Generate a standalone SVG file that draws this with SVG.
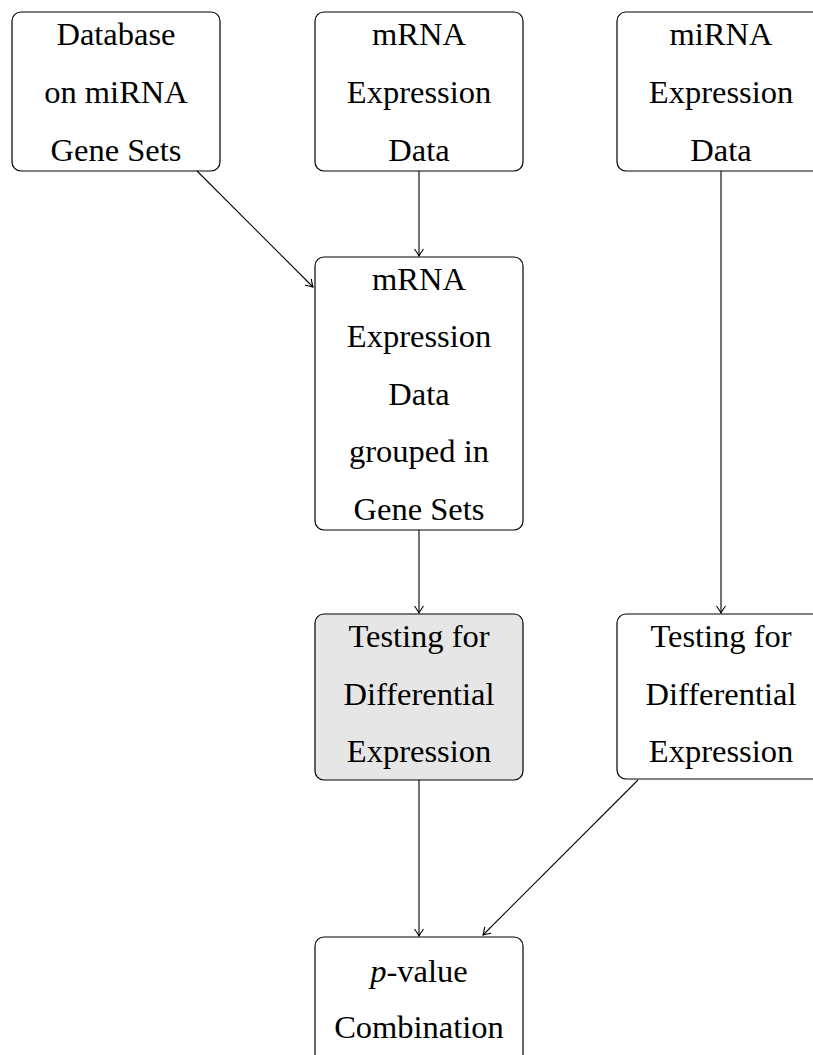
<svg xmlns="http://www.w3.org/2000/svg" width="813" height="1055" viewBox="0 0 813 1055">
<defs>
<marker id="ah" viewBox="-10 -6 12 12" refX="0" refY="0" markerWidth="12" markerHeight="12" markerUnits="userSpaceOnUse" orient="auto">
<path d="M-7,-4.5 Q-2,-1 0,0 Q-2,1 -7,4.5" fill="none" stroke="#000" stroke-width="1.1"/>
</marker>
</defs>
<rect width="813" height="1055" fill="#fff"/>
<g id="nodes" font-family="Liberation Serif, Times New Roman, serif" font-size="32.5" text-anchor="middle">
<g id="n1"><rect x="12" y="12" width="208" height="159" rx="9" fill="#fff" stroke="#000" stroke-width="1.2"/>
<text x="116" y="45">Database</text><text x="116" y="103">on miRNA</text><text x="116" y="161">Gene Sets</text></g>
<g id="n2"><rect x="315" y="12" width="208" height="159" rx="9" fill="#fff" stroke="#000" stroke-width="1.2"/>
<text x="419" y="45">mRNA</text><text x="419" y="103">Expression</text><text x="419" y="161">Data</text></g>
<g id="n3"><rect x="617" y="12" width="208" height="159" rx="9" fill="#fff" stroke="#000" stroke-width="1.2"/>
<text x="721" y="45">miRNA</text><text x="721" y="103">Expression</text><text x="721" y="161">Data</text></g>
<g id="n4"><rect x="315" y="257" width="208" height="273" rx="9" fill="#fff" stroke="#000" stroke-width="1.2"/>
<text x="419" y="290">mRNA</text><text x="419" y="347">Expression</text><text x="419" y="405">Data</text><text x="419" y="462">grouped in</text><text x="419" y="520">Gene Sets</text></g>
<g id="n5"><rect x="315" y="614" width="208" height="166" rx="9" fill="#e6e6e6" stroke="#000" stroke-width="1.2"/>
<text x="419" y="647">Testing for</text><text x="419" y="705">Differential</text><text x="419" y="762">Expression</text></g>
<g id="n6"><rect x="617" y="614" width="208" height="165" rx="9" fill="#fff" stroke="#000" stroke-width="1.2"/>
<text x="721" y="647">Testing for</text><text x="721" y="705">Differential</text><text x="721" y="762">Expression</text></g>
<g id="n7"><rect x="315" y="937" width="208" height="130" rx="9" fill="#fff" stroke="#000" stroke-width="1.2"/>
<text x="419" y="982"><tspan font-style="italic">p</tspan>-value</text><text x="419" y="1038">Combination</text></g>
</g>
<g id="connectors" stroke="#000" stroke-width="1.1" fill="none">
<line x1="197" y1="171" x2="313" y2="287" marker-end="url(#ah)"/>
<line x1="419" y1="171" x2="419" y2="256" marker-end="url(#ah)"/>
<line x1="721" y1="171" x2="721" y2="613" marker-end="url(#ah)"/>
<line x1="419" y1="530" x2="419" y2="613" marker-end="url(#ah)"/>
<line x1="419" y1="780" x2="419" y2="936" marker-end="url(#ah)"/>
<line x1="638" y1="780" x2="483" y2="935" marker-end="url(#ah)"/>
</g>
</svg>
